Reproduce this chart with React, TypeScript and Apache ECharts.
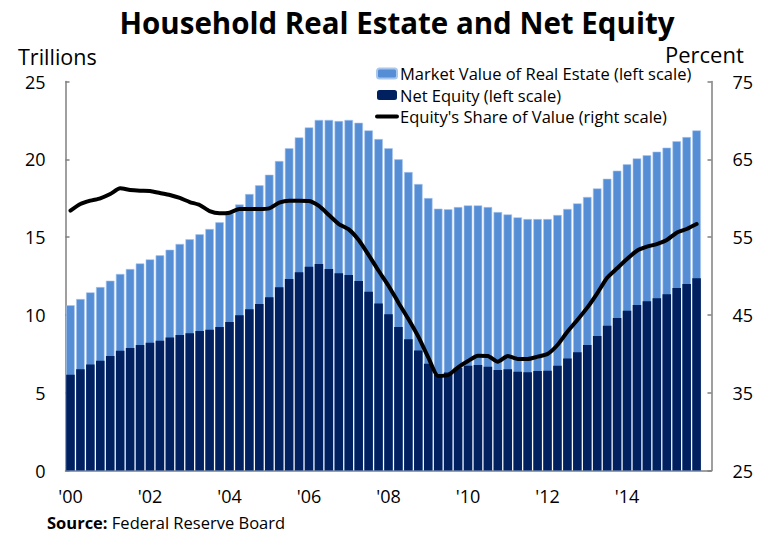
import React, { useEffect, useRef } from "react";
import * as echarts from "echarts";

// Quarterly, 2000Q1 .. 2015Q4 (one extra empty slot for 2016Q1 on the axis)
const startYear = 2000;
const quarterCount = 65;
const categories: string[] = [];
for (let i = 0; i < quarterCount; i++) {
  categories.push(`${startYear + Math.floor(i / 4)}Q${(i % 4) + 1}`);
}

// Market value of real estate, trillions (left scale)
const marketValue = [
  10.62, 11.02, 11.45, 11.79, 12.2, 12.63, 12.95, 13.31,
  13.57, 13.83, 14.19, 14.56, 14.86, 15.18, 15.52, 15.95,
  16.5, 17.1, 17.77, 18.33, 19.01, 19.89, 20.71, 21.41,
  22.05, 22.53, 22.53, 22.46, 22.53, 22.35, 21.86, 21.3,
  20.71, 20.0, 19.18, 18.41, 17.51, 16.83, 16.79, 16.93,
  17.04, 17.04, 16.93, 16.61, 16.46, 16.27, 16.16, 16.16,
  16.16, 16.42, 16.81, 17.17, 17.58, 18.13, 18.75, 19.27,
  19.68, 20.06, 20.26, 20.49, 20.75, 21.16, 21.43, 21.86,
];

// Net equity, trillions (left scale)
const netEquity = [
  6.16, 6.5, 6.82, 7.06, 7.36, 7.7, 7.87, 8.07,
  8.21, 8.34, 8.54, 8.71, 8.82, 8.97, 9.05, 9.22,
  9.54, 9.97, 10.36, 10.7, 11.13, 11.77, 12.31, 12.74,
  13.1, 13.27, 12.95, 12.67, 12.56, 12.18, 11.49, 10.74,
  10.04, 9.22, 8.43, 7.72, 6.86, 6.15, 6.3, 6.61,
  6.74, 6.78, 6.67, 6.46, 6.5, 6.35, 6.31, 6.39,
  6.41, 6.74, 7.19, 7.6, 8.07, 8.64, 9.31, 9.8,
  10.27, 10.64, 10.87, 11.07, 11.32, 11.73, 11.99, 12.35,
];

// Equity's share of value, percent (right scale)
const equityShare = [
  58.4, 59.25, 59.68, 59.99, 60.54, 61.27, 61.05, 60.96,
  60.93, 60.67, 60.41, 60.03, 59.51, 59.13, 58.35, 58.06,
  58.14, 58.61, 58.61, 58.61, 58.7, 59.42, 59.68, 59.68,
  59.64, 59.0, 57.84, 56.68, 56.0, 54.63, 52.7, 50.68,
  48.75, 46.57, 44.47, 42.2, 39.55, 37.15, 37.27, 38.26,
  39.07, 39.75, 39.72, 38.99, 39.72, 39.33, 39.33, 39.63,
  39.97, 41.13, 42.84, 44.34, 45.93, 47.78, 49.78, 50.99,
  52.18, 53.25, 53.77, 54.11, 54.63, 55.57, 56.04, 56.68,
];

const leftTicks = { min: 0, max: 25, interval: 5 };
const rightTicks = { min: 25, max: 75, interval: 10 };

const seriesNames = [
  "Market Value of Real Estate (left scale)",
  "Net Equity (left scale)",
  "Equity's Share of Value (right scale)",
];

const FONT = "'Open Sans', 'Noto Sans', sans-serif";

export default function App() {
  const ref = useRef<HTMLDivElement>(null);

  useEffect(() => {
    if (!ref.current) return;
    const chart = echarts.init(ref.current, undefined, { renderer: "svg" });
    const axisGray = "#7f7f7f";
    chart.setOption({
      animation: false,
      backgroundColor: "#ffffff",
      textStyle: { fontFamily: FONT },
      title: {
        text: "Household Real Estate and Net Equity",
        left: 392,
        top: 2,
        textAlign: "center",
        textStyle: { fontSize: 29.5, fontWeight: "bold", color: "#000", fontFamily: FONT },
      },
      legend: {
        orient: "vertical",
        left: 375,
        top: 65,
        padding: 0,
        itemWidth: 20,
        itemHeight: 10,
        itemGap: 4.5,
        data: [
          { name: seriesNames[0] },
          { name: seriesNames[1] },
          {
            name: seriesNames[2],
            itemStyle: { opacity: 0, color: "rgba(0,0,0,0)", borderWidth: 0 },
            lineStyle: { width: 4, color: "#000", cap: "round" },
          },
        ],
        textStyle: {
          fontSize: 16.5,
          lineHeight: 17,
          color: "#000",
          fontFamily: FONT,
          padding: [0, 0, 0, -2],
        },
        selectedMode: false,
      },
      grid: { left: 65.5, right: 53.5, top: 81.5, bottom: 62.5, containLabel: false },
      xAxis: {
        type: "category",
        data: categories,
        boundaryGap: true,
        axisLine: { lineStyle: { color: axisGray, width: 1.5 } },
        axisTick: {
          inside: true,
          length: 4,
          interval: (i: number) => i % 4 === 0,
          lineStyle: { color: axisGray, width: 1.5 },
        },
        axisLabel: {
          interval: (i: number) => i % 8 === 0 && i < 64,
          formatter: (v: string) => "'" + v.slice(2, 4),
          fontSize: 18,
          color: "#000",
          margin: 16,
          fontFamily: FONT,
        },
        splitLine: { show: false },
      },
      yAxis: [
        {
          type: "value",
          ...leftTicks,
          position: "left",
          axisLine: { show: true, lineStyle: { color: axisGray, width: 1.5 } },
          axisTick: { show: true, inside: true, length: 4, lineStyle: { color: axisGray, width: 1.5 } },
          axisLabel: { fontSize: 18, color: "#000", margin: 20, fontFamily: FONT },
          splitLine: { show: false },
        },
        {
          type: "value",
          ...rightTicks,
          position: "right",
          axisLine: { show: true, lineStyle: { color: axisGray, width: 1.5 } },
          axisTick: { show: true, inside: true, length: 4, lineStyle: { color: axisGray, width: 1.5 } },
          axisLabel: { fontSize: 18, color: "#000", margin: 21, fontFamily: FONT },
          splitLine: { show: false },
        },
      ],
      series: [
        {
          name: seriesNames[0],
          type: "bar",
          data: marketValue,
          yAxisIndex: 0,
          barCategoryGap: "14%",
          barGap: "-100%",
          itemStyle: { color: "#558ED5", borderColor: "#a9c6ec", borderWidth: 0.6 },
          z: 1,
        },
        {
          name: seriesNames[1],
          type: "bar",
          data: netEquity,
          yAxisIndex: 0,
          barCategoryGap: "14%",
          barGap: "-100%",
          itemStyle: { color: "#002060" },
          z: 2,
        },
        {
          name: seriesNames[2],
          type: "line",
          data: equityShare,
          yAxisIndex: 1,
          symbol: "none",
          smooth: 0.2,
          lineStyle: { color: "#000", width: 4, cap: "round", join: "round" },
          itemStyle: { color: "#000" },
          z: 5,
        },
      ],
      graphic: [
        {
          type: "text",
          left: 18,
          top: 45,
          style: { text: "Trillions", fontSize: 21.5, fill: "#000", fontFamily: FONT },
        },
        {
          type: "text",
          left: 665,
          top: 43,
          style: { text: "Percent", fontSize: 22, fill: "#000", fontFamily: FONT },
        },
        {
          type: "text",
          left: 47,
          top: 514,
          style: {
            text: "{b|Source:} Federal Reserve Board",
            fontSize: 16.5,
            fill: "#000",
            fontFamily: FONT,
            rich: {
              b: { fontWeight: "bold", fontSize: 16.5, fontFamily: FONT },
            },
          },
        },
      ],
    });
    return () => chart.dispose();
  }, []);

  return (
    <div
      ref={ref}
      style={{ position: "absolute", left: 0, top: 0, width: 765, height: 533 }}
    />
  );
}
